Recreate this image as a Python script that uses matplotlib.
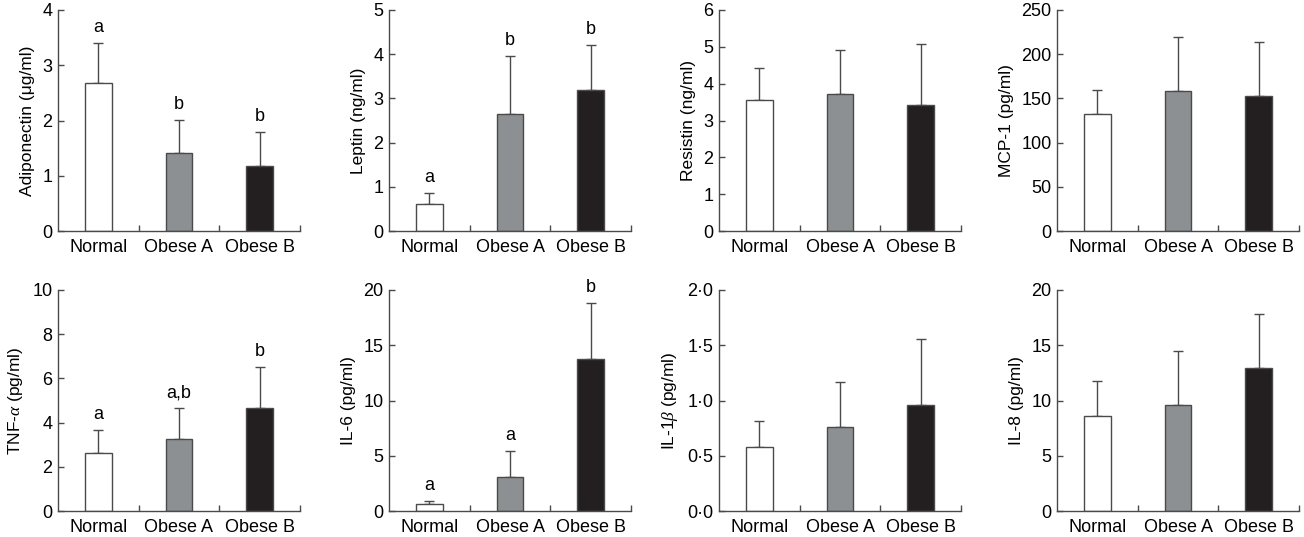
import matplotlib.pyplot as plt
from matplotlib.ticker import FixedLocator, FuncFormatter

plt.rcParams['font.family'] = ['Liberation Sans', 'DejaVu Sans']
plt.rcParams['mathtext.fontset'] = 'custom'
plt.rcParams['mathtext.it'] = 'Liberation Serif:italic'

groups = ['Normal', 'Obese A', 'Obese B']

# means and upper error (SD)
adiponectin = [2.67, 1.42, 1.17]
adiponectin_err = [0.73, 0.59, 0.63]
leptin = [0.62, 2.65, 3.18]
leptin_err = [0.23, 1.31, 1.02]
resistin = [3.55, 3.72, 3.43]
resistin_err = [0.87, 1.20, 1.65]
mcp1 = [132, 158, 153]
mcp1_err = [28, 61, 61]
tnfa = [2.62, 3.25, 4.68]
tnfa_err = [1.03, 1.40, 1.82]
il6 = [0.6, 3.1, 13.75]
il6_err = [0.35, 2.3, 5.1]
il1b = [0.58, 0.76, 0.96]
il1b_err = [0.23, 0.41, 0.60]
il8 = [8.6, 9.6, 12.9]
il8_err = [3.2, 4.9, 4.9]

panels = [
    ('Adiponectin (μg/ml)', adiponectin, adiponectin_err, 4, [0, 1, 2, 3, 4], ['a', 'b', 'b'], False),
    ('Leptin (ng/ml)', leptin, leptin_err, 5, [0, 1, 2, 3, 4, 5], ['a', 'b', 'b'], False),
    ('Resistin (ng/ml)', resistin, resistin_err, 6, [0, 1, 2, 3, 4, 5, 6], None, False),
    ('MCP-1 (pg/ml)', mcp1, mcp1_err, 250, [0, 50, 100, 150, 200, 250], None, False),
    ('TNF-$\\alpha$ (pg/ml)', tnfa, tnfa_err, 10, [0, 2, 4, 6, 8, 10], ['a', 'a,b', 'b'], False),
    ('IL-6 (pg/ml)', il6, il6_err, 20, [0, 5, 10, 15, 20], ['a', 'a', 'b'], False),
    ('IL-1$\\beta$ (pg/ml)', il1b, il1b_err, 2.0, [0, 0.5, 1.0, 1.5, 2.0], None, True),
    ('IL-8 (pg/ml)', il8, il8_err, 20, [0, 5, 10, 15, 20], None, False),
]

bar_colors = ['white', '#8d9092', '#231f20']
edge = '#4a4a4a'

W, H = 1304, 537
fig = plt.figure(figsize=(W / 100, H / 100), dpi=100)

col_left = [58, 389, 719, 1057]
row_top = [10, 290]
ax_w, ax_h = 242, 221

for i, (label, vals, errs, ymax, yt, letters, dotfmt) in enumerate(panels):
    r, c = divmod(i, 4)
    ax = fig.add_axes([col_left[c] / W, 1 - (row_top[r] + ax_h) / H, ax_w / W, ax_h / H])
    x = range(3)
    ax.bar(x, vals, width=0.33, color=bar_colors, edgecolor=edge, linewidth=1.0, zorder=2)
    ax.errorbar(x, vals, yerr=[[0, 0, 0], errs], fmt='none', ecolor=edge,
                elinewidth=1.0, capsize=3.5, capthick=1.0, zorder=1)
    ax.set_xlim(-0.5, 2.5)
    ax.set_ylim(0, ymax)
    ax.set_yticks(yt)
    if dotfmt:
        ax.yaxis.set_major_formatter(FuncFormatter(lambda v, p: f'{v:.1f}'.replace('.', '·')))
    ax.set_xticks(list(x))
    ax.set_xticklabels(groups)
    ax.xaxis.set_minor_locator(FixedLocator([0.5, 1.5, 2.5]))
    ax.tick_params(axis='x', which='major', length=0, pad=6, labelsize=13)
    ax.tick_params(axis='x', which='minor', direction='in', length=4, width=1, color=edge)
    ax.tick_params(axis='y', direction='in', length=4, width=1, color=edge, labelsize=13, pad=4)
    for s in ['top', 'right']:
        ax.spines[s].set_visible(False)
    for s in ['left', 'bottom']:
        ax.spines[s].set_color(edge)
        ax.spines[s].set_linewidth(1.0)
    ax.set_ylabel(label, fontsize=12.5, labelpad=5)
    if letters:
        for xi, v, e, t in zip(x, vals, errs, letters):
            ax.annotate(t, (xi, v + e), xytext=(0, 5), textcoords='offset points',
                        ha='center', va='bottom', fontsize=13)

fig.savefig('out.png', dpi=100)
